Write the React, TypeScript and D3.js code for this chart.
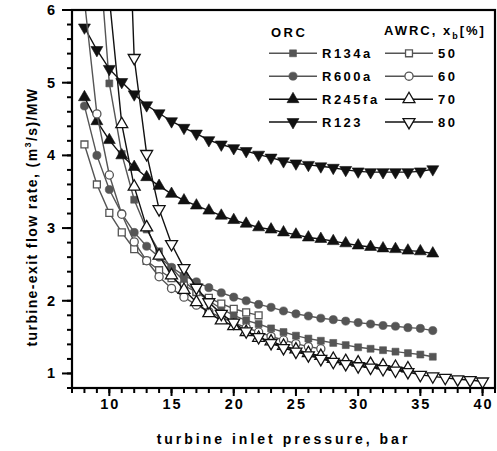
import React from "react";
import * as d3 from "d3";

// Turbine-exit volumetric flow rate per MW vs turbine inlet pressure.
// Each series is sampled at consecutive integer pressures starting at *Start.

const orcNames = ["R134a", "R600a", "R245fa", "R123"];
const awrcNames = ["50", "60", "70", "80"];

const r134aStart = 9;
const r134aValues = [7.2, 4.99, 4.02, 3.39, 2.98, 2.68, 2.45, 2.27, 2.12, 2.0, 1.89, 1.8, 1.73, 1.68, 1.62, 1.57, 1.52, 1.48, 1.45, 1.42, 1.39, 1.36, 1.34, 1.32, 1.3, 1.28, 1.26, 1.23];

const r600aStart = 8;
const r600aValues = [4.68, 4.0, 3.53, 3.2, 2.94, 2.75, 2.6, 2.46, 2.35, 2.26, 2.18, 2.11, 2.05, 2.0, 1.95, 1.91, 1.86, 1.82, 1.79, 1.76, 1.74, 1.72, 1.7, 1.68, 1.66, 1.65, 1.63, 1.62, 1.59];

const r245faStart = 8;
const r245faValues = [4.8, 4.47, 4.21, 4.0, 3.84, 3.7, 3.58, 3.47, 3.38, 3.31, 3.24, 3.17, 3.11, 3.06, 3.01, 2.98, 2.94, 2.91, 2.87, 2.85, 2.82, 2.79, 2.76, 2.74, 2.72, 2.71, 2.69, 2.68, 2.65];

const r123Start = 8;
const r123Values = [5.76, 5.45, 5.19, 5.01, 4.84, 4.69, 4.58, 4.47, 4.38, 4.3, 4.21, 4.15, 4.1, 4.06, 4.01, 3.97, 3.92, 3.89, 3.87, 3.85, 3.83, 3.8, 3.78, 3.77, 3.77, 3.77, 3.77, 3.78, 3.81];

const xb50Start = 8;
const xb50Values = [4.15, 3.6, 3.21, 2.94, 2.71, 2.55, 2.42, 2.31, 2.21, 2.12, 2.04, 1.96, 1.89, 1.84, 1.8];

const xb60Start = 8;
const xb60Values = [6.13, 4.57, 3.73, 3.19, 2.81, 2.55, 2.33, 2.17, 2.05, 1.94, 1.85, 1.77, 1.7, 1.63, 1.57, 1.51, 1.46, 1.41, 1.37, 1.34];

const xb70Start = 10;
const xb70Values = [6.17, 4.43, 3.57, 3.01, 2.62, 2.35, 2.15, 1.98, 1.83, 1.73, 1.65, 1.57, 1.49, 1.44, 1.38, 1.33, 1.28, 1.24, 1.2, 1.17, 1.15, 1.13, 1.11, 1.09, 1.07];

const xb80Start = 11;
const xb80Values = [10.0, 5.34, 4.02, 3.26, 2.78, 2.45, 2.18, 1.98, 1.82, 1.7, 1.58, 1.5, 1.42, 1.35, 1.3, 1.25, 1.2, 1.16, 1.13, 1.1, 1.08, 1.06, 1.04, 1.02, 0.98, 0.96, 0.94, 0.92, 0.91, 0.89];

const xMajorTicks = [10, 15, 20, 25, 30, 35, 40];
const yMajorTicks = [1, 2, 3, 4, 5, 6];

const W = 497;
const H = 451;
const left = 72;
const right = 495;
const top = 10;
const bottom = 388;

const GRAY = "#555555";
const BLACK = "#111111";
const FONT = "Arial, 'Liberation Sans', sans-serif";

type Shape = "square" | "circle" | "up" | "down";
type Series = {
  name: string;
  start: number;
  values: number[];
  shape: Shape;
  color: string;
  open: boolean;
};

const series: Series[] = [
  { name: orcNames[0], start: r134aStart, values: r134aValues, shape: "square", color: GRAY, open: false },
  { name: orcNames[1], start: r600aStart, values: r600aValues, shape: "circle", color: GRAY, open: false },
  { name: orcNames[2], start: r245faStart, values: r245faValues, shape: "up", color: BLACK, open: false },
  { name: orcNames[3], start: r123Start, values: r123Values, shape: "down", color: BLACK, open: false },
  { name: awrcNames[0], start: xb50Start, values: xb50Values, shape: "square", color: GRAY, open: true },
  { name: awrcNames[1], start: xb60Start, values: xb60Values, shape: "circle", color: GRAY, open: true },
  { name: awrcNames[2], start: xb70Start, values: xb70Values, shape: "up", color: BLACK, open: true },
  { name: awrcNames[3], start: xb80Start, values: xb80Values, shape: "down", color: BLACK, open: true },
];

const x = d3.scaleLinear().domain([7, 41]).range([left, right]);
const y = d3.scaleLinear().domain([0.8, 6]).range([bottom, top]);

const symbolPath = (shape: Shape): string => {
  const sym = d3.symbol();
  if (shape === "square") return sym.type(d3.symbolSquare).size(48)() as string;
  if (shape === "circle") return sym.type(d3.symbolCircle).size(52)() as string;
  return sym.type(d3.symbolTriangle).size(62)() as string;
};

function Marker({ s, cx, cy }: { s: Series; cx: number; cy: number }) {
  const rot = s.shape === "down" ? " rotate(180)" : "";
  return (
    <path
      d={symbolPath(s.shape)}
      transform={`translate(${cx},${cy})${rot}`}
      fill={s.open ? "#ffffff" : s.color}
      stroke={s.color}
      strokeWidth={s.open ? 1.3 : 0.6}
    />
  );
}

export default function App() {
  const line = d3
    .line<[number, number]>()
    .x((d) => x(d[0]))
    .y((d) => y(d[1]));

  const xMinor = d3.range(7, 42, 1);
  const yMinor = d3.range(0.8, 6.01, 0.2);

  const legendRows = [53.3, 76.2, 99.2, 122];

  return (
    <svg
      width={W}
      height={H}
      style={{ position: "absolute", left: 0, top: 0, background: "#fff" }}
      fontFamily={FONT}
    >
      <defs>
        <clipPath id="plot-area">
          <rect x={left} y={top} width={right - left} height={bottom - top} />
        </clipPath>
      </defs>
      <rect x={0} y={0} width={W} height={H} fill="#fff" />

      {/* data */}
      <g clipPath="url(#plot-area)">
        {series.map((s) => {
          const pts: [number, number][] = s.values.map((v, i) => [s.start + i, v]);
          return (
            <g key={s.name + s.shape + s.open}>
              <path d={line(pts) as string} fill="none" stroke={s.color} strokeWidth={1.4} />
              {pts.map((p, i) => (
                <Marker key={i} s={s} cx={x(p[0])} cy={y(p[1])} />
              ))}
            </g>
          );
        })}
      </g>

      {/* frame */}
      <rect x={left} y={top} width={right - left} height={bottom - top} fill="none" stroke="#000" strokeWidth={2.2} />

      {/* x ticks */}
      {xMinor.map((v) => (
        <line key={"xm" + v} x1={x(v)} x2={x(v)} y1={bottom} y2={bottom + 5} stroke="#000" strokeWidth={2} />
      ))}
      {xMajorTicks.map((v) => (
        <g key={"xM" + v}>
          <line x1={x(v)} x2={x(v)} y1={bottom} y2={bottom + 8} stroke="#000" strokeWidth={2} />
          <text
            x={x(v) + 1}
            y={409}
            textAnchor="middle"
            fontSize={14.5}
            fontWeight="bold"
            letterSpacing={2}
          >
            {v}
          </text>
        </g>
      ))}

      {/* y ticks */}
      {yMinor.map((v, i) => (
        <line key={"ym" + i} x1={left - 5} x2={left} y1={y(v)} y2={y(v)} stroke="#000" strokeWidth={2} />
      ))}
      {yMajorTicks.map((v) => (
        <g key={"yM" + v}>
          <line x1={left - 10} x2={left} y1={y(v)} y2={y(v)} stroke="#000" strokeWidth={2} />
          <text x={55} y={y(v) + 5} textAnchor="end" fontSize={14.5} fontWeight="bold">
            {v}
          </text>
        </g>
      ))}

      {/* axis titles */}
      <text
        x={(left + right) / 2}
        y={444}
        textAnchor="middle"
        fontSize={14}
        fontWeight="bold"
        letterSpacing={3}
      >
        turbine inlet pressure, bar
      </text>
      <text
        transform="translate(37,217) rotate(-90)"
        textAnchor="middle"
        fontSize={14}
        fontWeight="bold"
        letterSpacing={1.4}
      >
        turbine-exit flow rate, (m
        <tspan dy={-6} fontSize={9}>3</tspan>
        <tspan dy={6}>/s)/MW</tspan>
      </text>

      {/* legend */}
      <text x={271} y={37} fontSize={13} fontWeight="bold" letterSpacing={2.5}>
        ORC
      </text>
      <text x={384} y={35} fontSize={13} fontWeight="bold" letterSpacing={2}>
        AWRC, x
        <tspan dy={4} fontSize={9}>b</tspan>
        <tspan dy={-4}>[%]</tspan>
      </text>
      {series.map((s, i) => {
        const row = legendRows[i % 4];
        const awrc = i >= 4;
        const x0 = awrc ? 385 : 269;
        const x1 = awrc ? 433 : 317;
        const tx = awrc ? 438 : 322;
        return (
          <g key={"lg" + i}>
            <line x1={x0} x2={x1} y1={row} y2={row} stroke={s.color} strokeWidth={1.4} />
            <Marker s={s} cx={(x0 + x1) / 2} cy={row} />
            <text x={tx} y={row + 5} fontSize={13} fontWeight="bold" letterSpacing={2.5}>
              {s.name}
            </text>
          </g>
        );
      })}
    </svg>
  );
}
